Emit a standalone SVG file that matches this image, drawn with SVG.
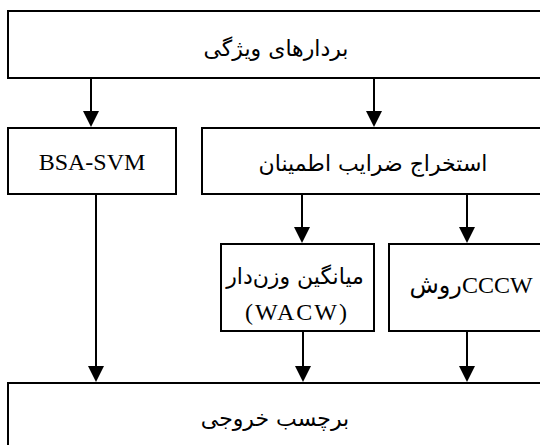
<svg xmlns="http://www.w3.org/2000/svg" width="540" height="445" viewBox="0 0 540 445">
<defs>
<style>
.box{fill:#fff;stroke:#000;stroke-width:2}
.t{font-family:"Liberation Serif","DejaVu Sans",serif;font-size:24px;fill:#000;text-anchor:middle}
.fa{font-family:"DejaVu Sans","Liberation Serif",sans-serif;font-size:22px;fill:#000;text-anchor:middle}
.c{stroke:#000;stroke-width:2;fill:none}
.h{fill:#000;stroke:none}
</style>
<path id="head" d="M-8,-16 L8,-16 L0,0 Z"/>
</defs>
<rect width="540" height="445" fill="#fff"/>
<g id="features">
<rect class="box" x="8" y="11" width="540" height="67"/>
<text class="fa" x="276" y="56">بردارهای ویژگی</text>
</g>
<g id="bsa-svm">
<rect class="box" x="8" y="128" width="168" height="66"/>
<text class="t" x="92" y="170">BSA-SVM</text>
</g>
<g id="extract">
<rect class="box" x="202" y="128" width="345" height="66"/>
<text class="fa" x="373" y="171">استخراج ضرایب اطمینان</text>
</g>
<g id="wacw">
<rect class="box" x="221" y="244" width="153" height="87"/>
<text class="fa" x="295" y="284">میانگین وزن‌دار</text>
<text class="t" x="297" y="320" letter-spacing="2">(WACW)</text>
</g>
<g id="cccw">
<rect class="box" x="389" y="244" width="160" height="87"/>
<text class="t" x="471" y="293">روشCCCW</text>
</g>
<g id="output">
<rect class="box" x="8" y="383" width="540" height="70"/>
<text class="fa" x="275" y="426">برچسب خروجی</text>
</g>
<g id="connectors">
<line class="c" x1="91" y1="78" x2="91" y2="112"/>
<use href="#head" class="h" x="91" y="127"/>
<line class="c" x1="374" y1="78" x2="374" y2="112"/>
<use href="#head" class="h" x="374" y="127"/>
<line class="c" x1="302" y1="194" x2="302" y2="228"/>
<use href="#head" class="h" x="302" y="243"/>
<line class="c" x1="467" y1="194" x2="467" y2="228"/>
<use href="#head" class="h" x="467" y="243"/>
<line class="c" x1="96" y1="194" x2="96" y2="367"/>
<use href="#head" class="h" x="96" y="382"/>
<line class="c" x1="303" y1="331" x2="303" y2="367"/>
<use href="#head" class="h" x="303" y="382"/>
<line class="c" x1="467" y1="331" x2="467" y2="367"/>
<use href="#head" class="h" x="467" y="382"/>
</g>
</svg>
